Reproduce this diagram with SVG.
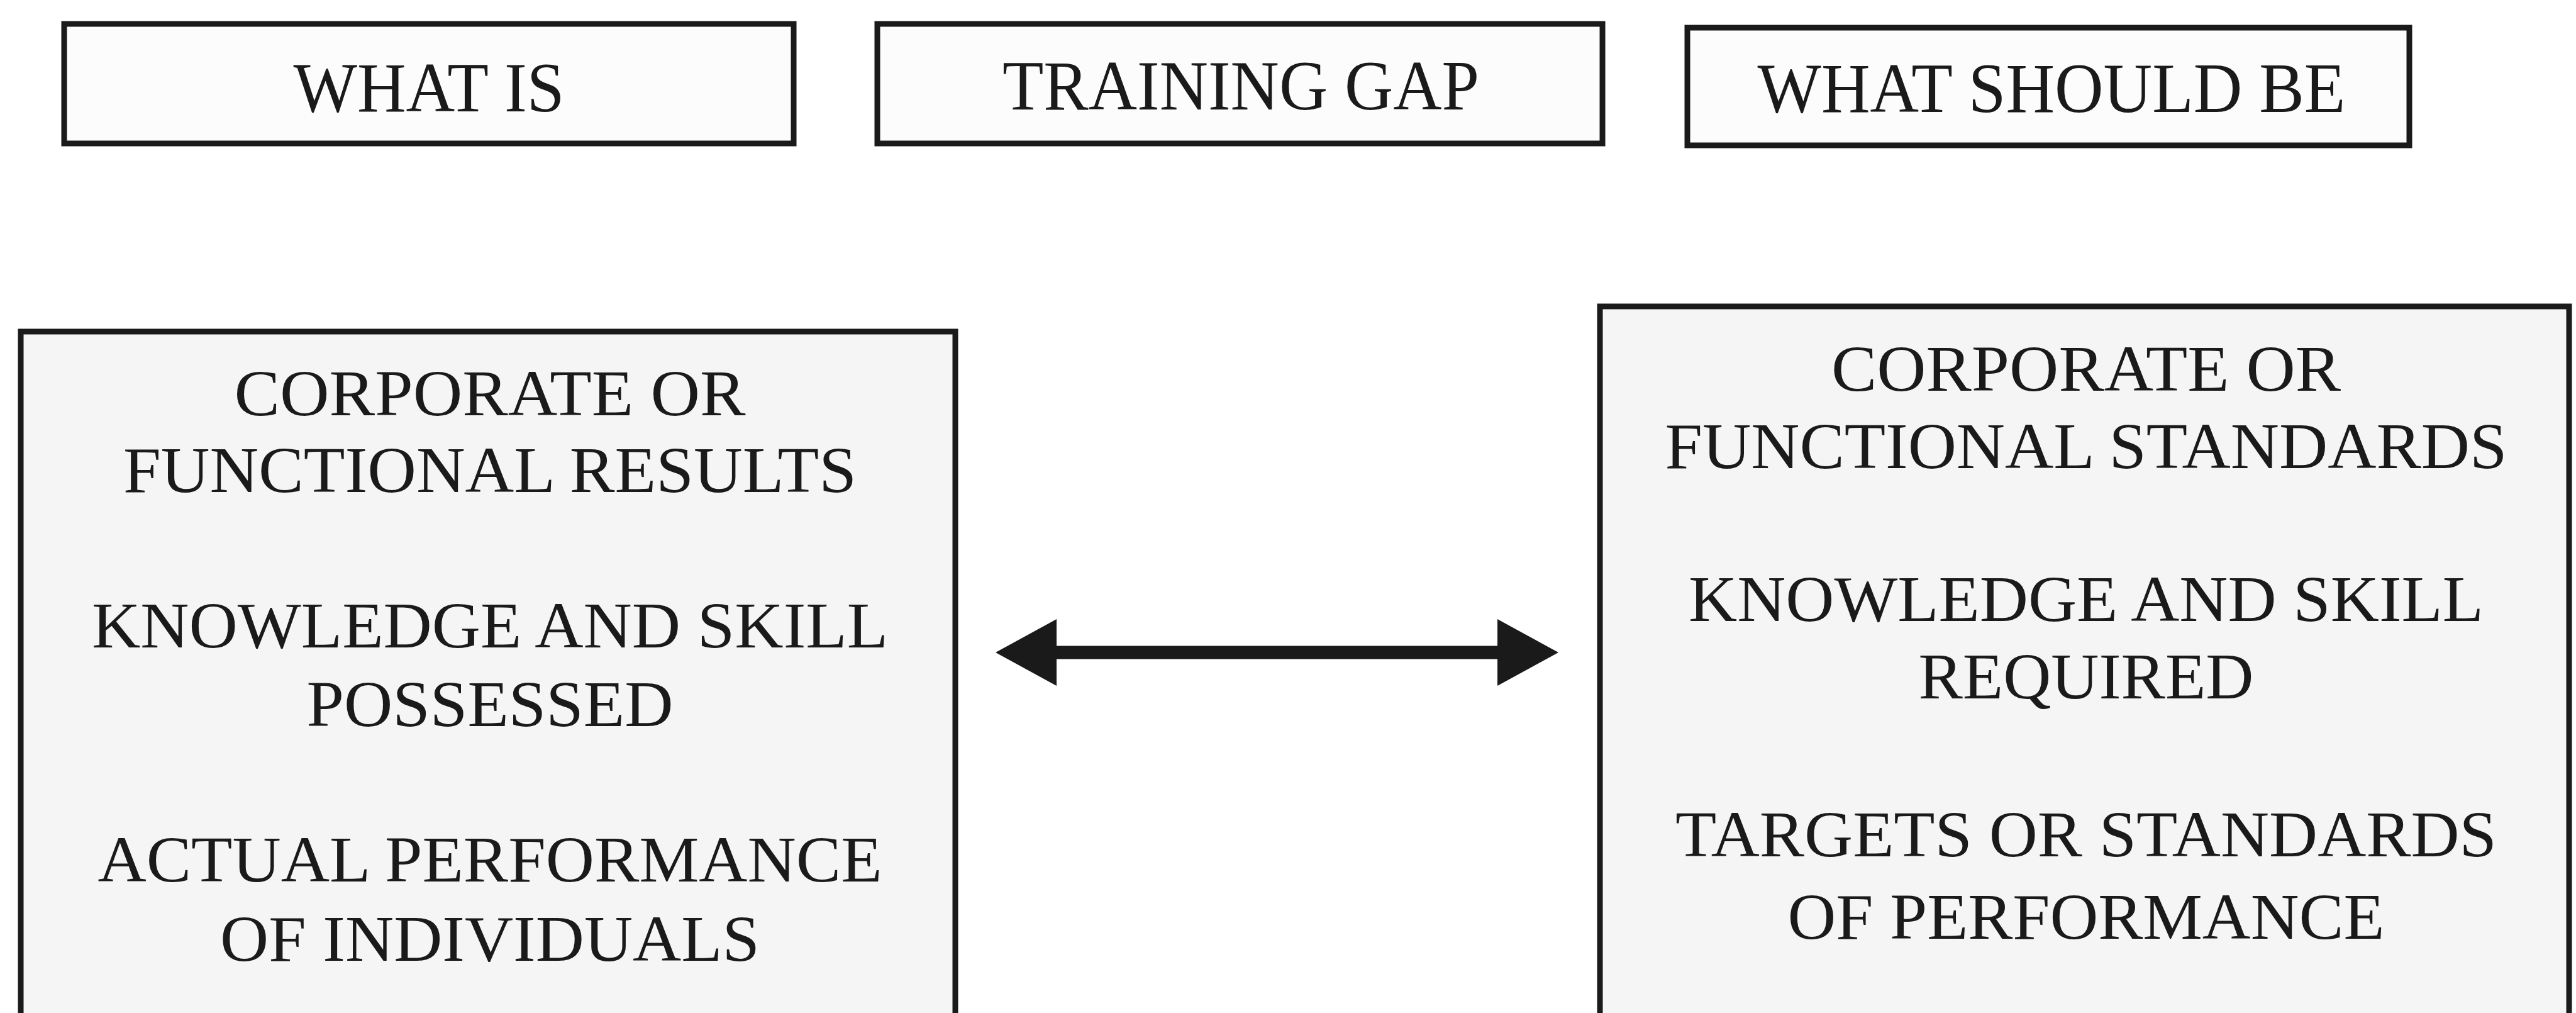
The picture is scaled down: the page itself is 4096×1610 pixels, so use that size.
<svg xmlns="http://www.w3.org/2000/svg" width="4096" height="1610" viewBox="0 0 4096 1610">
<style>
.box{fill:#fcfcfc;stroke:#1a1a1a;stroke-width:9}
.big{fill:#f5f5f5;stroke:#1a1a1a;stroke-width:9}
text{font-family:"Liberation Serif","Times New Roman",serif;fill:#1a1a1a;text-anchor:middle}
.h{font-size:112px}
.t{font-size:104px}
</style>
<defs>
<marker id="ah" markerUnits="userSpaceOnUse" markerWidth="97" markerHeight="106" viewBox="0 0 97 106" refX="10" refY="53" orient="auto-start-reverse">
<path d="M0,0 L97,53 L0,106 Z" fill="#1a1a1a"/>
</marker>
</defs>
<rect width="4096" height="1610" fill="#ffffff"/>
<g id="what-is">
<rect class="box" x="102" y="38" width="1160" height="190"/>
<text class="h" x="682" y="177" textLength="431" lengthAdjust="spacingAndGlyphs">WHAT IS</text>
</g>
<g id="training-gap">
<rect class="box" x="1395" y="38" width="1153" height="190"/>
<text class="h" x="1973" y="174" textLength="758" lengthAdjust="spacingAndGlyphs">TRAINING GAP</text>
</g>
<g id="what-should-be">
<rect class="box" x="2683" y="44" width="1148" height="187"/>
<text class="h" x="3262" y="178" textLength="935" lengthAdjust="spacingAndGlyphs">WHAT SHOULD BE</text>
</g>
<g id="current-state">
<rect class="big" x="33" y="527" width="1486" height="1090"/>
<text class="t" x="779" y="660" textLength="813" lengthAdjust="spacingAndGlyphs">CORPORATE OR</text>
<text class="t" x="779" y="782" textLength="1166" lengthAdjust="spacingAndGlyphs">FUNCTIONAL RESULTS</text>
<text class="t" x="779" y="1029" textLength="1266" lengthAdjust="spacingAndGlyphs">KNOWLEDGE AND SKILL</text>
<text class="t" x="779" y="1154" textLength="583" lengthAdjust="spacingAndGlyphs">POSSESSED</text>
<text class="t" x="779" y="1401" textLength="1247" lengthAdjust="spacingAndGlyphs">ACTUAL PERFORMANCE</text>
<text class="t" x="779" y="1527" textLength="858" lengthAdjust="spacingAndGlyphs">OF INDIVIDUALS</text>
</g>
<g id="desired-state">
<rect class="big" x="2544" y="487" width="1541" height="1130"/>
<text class="t" x="3317" y="621" textLength="810" lengthAdjust="spacingAndGlyphs">CORPORATE OR</text>
<text class="t" x="3317" y="744" textLength="1339" lengthAdjust="spacingAndGlyphs">FUNCTIONAL STANDARDS</text>
<text class="t" x="3317" y="987" textLength="1264" lengthAdjust="spacingAndGlyphs">KNOWLEDGE AND SKILL</text>
<text class="t" x="3317" y="1110" textLength="533" lengthAdjust="spacingAndGlyphs">REQUIRED</text>
<text class="t" x="3317" y="1361" textLength="1306" lengthAdjust="spacingAndGlyphs">TARGETS OR STANDARDS</text>
<text class="t" x="3317" y="1492" textLength="949" lengthAdjust="spacingAndGlyphs">OF PERFORMANCE</text>
</g>
<g id="connectors">
<line x1="1670" y1="1037" x2="2391" y2="1037" stroke="#1a1a1a" stroke-width="21" marker-start="url(#ah)" marker-end="url(#ah)"/>
</g>
</svg>
